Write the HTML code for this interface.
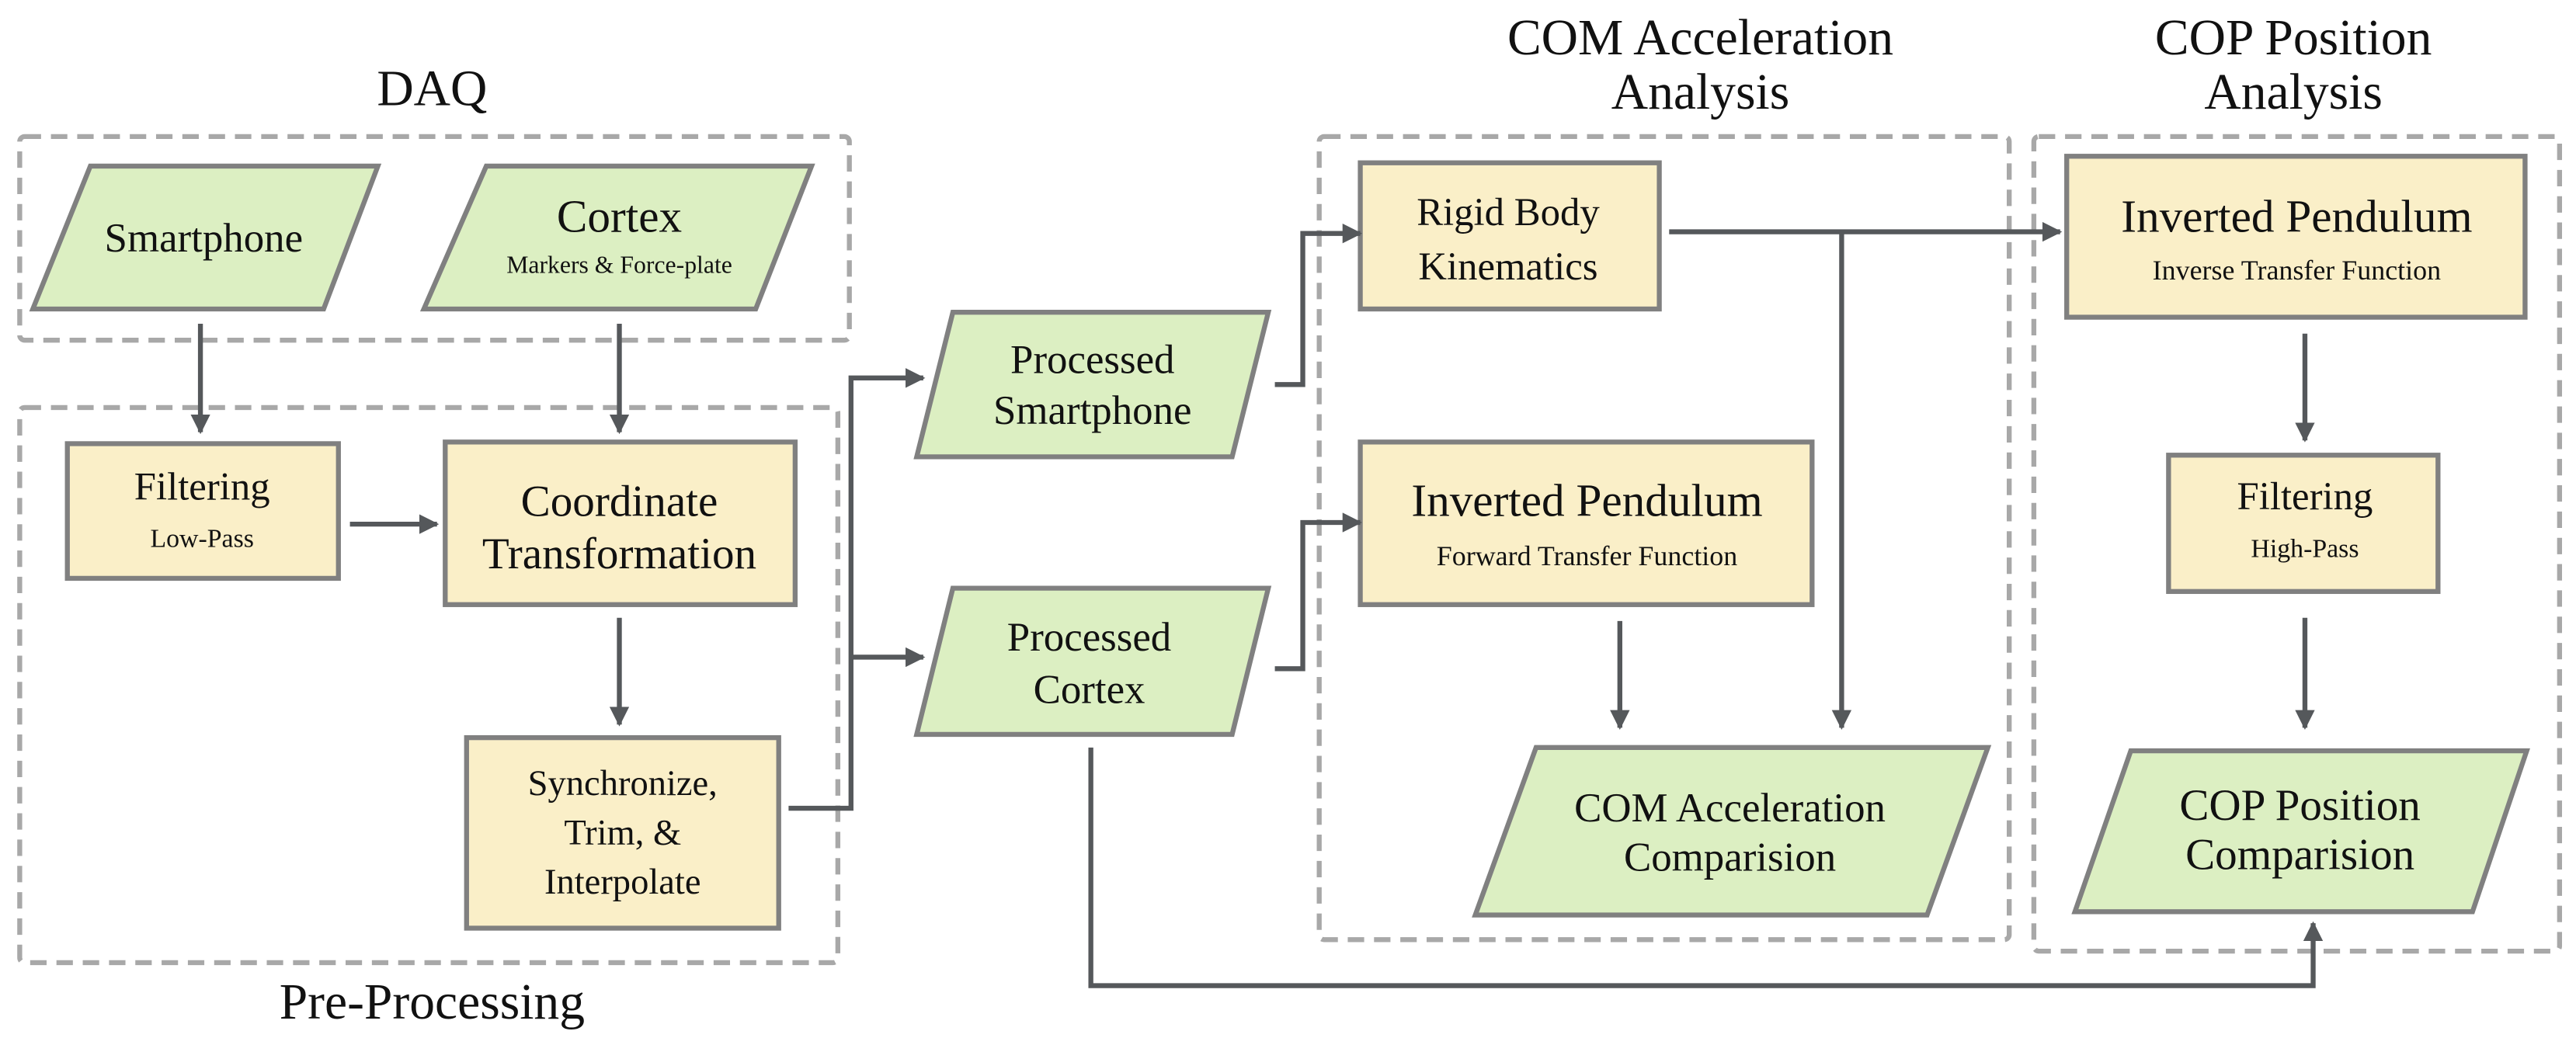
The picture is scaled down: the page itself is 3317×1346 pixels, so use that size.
<!DOCTYPE html>
<html><head><meta charset="utf-8"><style>html,body{margin:0;padding:0;background:#fff}svg{display:block}</style></head>
<body>
<svg width="3317" height="1346" viewBox="0 0 1568 636" xmlns="http://www.w3.org/2000/svg" font-family="'Liberation Serif', serif" fill="#111">
<defs>
<marker id="a" viewBox="0 0 10 10" refX="9" refY="5" markerWidth="4" markerHeight="4" orient="auto"><path d="M0,0 L10,5 L0,10 z" fill="#55585b"/></marker>
</defs>
<rect width="1568" height="636" fill="#fff"/>
<g fill="none" stroke="#a8a8a8" stroke-width="3" stroke-dasharray="10,6">
<rect x="12" y="83" width="505" height="124" rx="3"/>
<rect x="12" y="248" width="498" height="338" rx="3"/>
<rect x="803" y="83" width="420" height="489" rx="3"/>
<rect x="1238" y="83" width="320" height="496" rx="3"/>
</g>
<g stroke="#808080" stroke-width="3">
<polygon points="20,188 55,101 230,101 197,188" fill="#dcefc2"/>
<polygon points="258,188 296,101 494,101 460,188" fill="#dcefc2"/>
<rect x="41" y="270" width="165" height="82" fill="#faefc8"/>
<rect x="271" y="269" width="213" height="99" fill="#faefc8"/>
<rect x="284" y="449" width="190" height="116" fill="#faefc8"/>
<polygon points="558,278 580,190 772,190 750,278" fill="#dcefc2"/>
<polygon points="558,447 580,358 772,358 750,447" fill="#dcefc2"/>
<rect x="828" y="99" width="182" height="89" fill="#faefc8"/>
<rect x="828" y="269" width="275" height="99" fill="#faefc8"/>
<polygon points="898,557 935,455 1210,455 1173,557" fill="#dcefc2"/>
<rect x="1258" y="95" width="279" height="98" fill="#faefc8"/>
<rect x="1320" y="277" width="164" height="83" fill="#faefc8"/>
<polygon points="1263,555 1297,457 1538,457 1505,555" fill="#dcefc2"/>
</g>
<g fill="none" stroke="#55585b" stroke-width="3" marker-end="url(#a)">
<path d="M122,197 V263"/>
<path d="M377,197 V263"/>
<path d="M213,319 H266"/>
<path d="M377,376 V441"/>
<path d="M480,492 H518 V230 H562"/>
<path d="M518,400 H562"/>
<path d="M776,234 H793 V142 H828"/>
<path d="M776,407 H793 V318 H828"/>
<path d="M1016,141 H1254"/>
<path d="M1121,141 V443"/>
<path d="M986,378 V443"/>
<path d="M1403,203 V268"/>
<path d="M1403,376 V443"/>
<path d="M664,455 V600 H1408 V562"/>
</g>
<g text-anchor="middle">
<text x="263" y="64" font-size="31">DAQ</text>
<text x="263" y="620" font-size="31">Pre-Processing</text>
<text x="1035" y="33" font-size="31">COM Acceleration</text>
<text x="1035" y="66" font-size="31">Analysis</text>
<text x="1396" y="33" font-size="31">COP Position</text>
<text x="1396" y="66" font-size="31">Analysis</text>
<text x="124" y="153" font-size="25">Smartphone</text>
<text x="377" y="141" font-size="28">Cortex</text>
<text x="377" y="166" font-size="15">Markers &amp; Force-plate</text>
<text x="123" y="304" font-size="24">Filtering</text>
<text x="123" y="333" font-size="16">Low-Pass</text>
<text x="377" y="314" font-size="27">Coordinate</text>
<text x="377" y="346" font-size="27">Transformation</text>
<text x="379" y="484" font-size="22">Synchronize,</text>
<text x="379" y="514" font-size="22">Trim, &amp;</text>
<text x="379" y="544" font-size="22">Interpolate</text>
<text x="665" y="227" font-size="25">Processed</text>
<text x="665" y="258" font-size="25">Smartphone</text>
<text x="663" y="396" font-size="25">Processed</text>
<text x="663" y="428" font-size="25">Cortex</text>
<text x="918" y="137" font-size="24">Rigid Body</text>
<text x="918" y="170" font-size="24">Kinematics</text>
<text x="966" y="314" font-size="28">Inverted Pendulum</text>
<text x="966" y="344" font-size="17">Forward Transfer Function</text>
<text x="1053" y="500" font-size="25">COM Acceleration</text>
<text x="1053" y="530" font-size="25">Comparision</text>
<text x="1398" y="141" font-size="28">Inverted Pendulum</text>
<text x="1398" y="170" font-size="17">Inverse Transfer Function</text>
<text x="1403" y="310" font-size="24">Filtering</text>
<text x="1403" y="339" font-size="16">High-Pass</text>
<text x="1400" y="499" font-size="27">COP Position</text>
<text x="1400" y="529" font-size="27">Comparision</text>
</g>
</svg>
</body></html>
